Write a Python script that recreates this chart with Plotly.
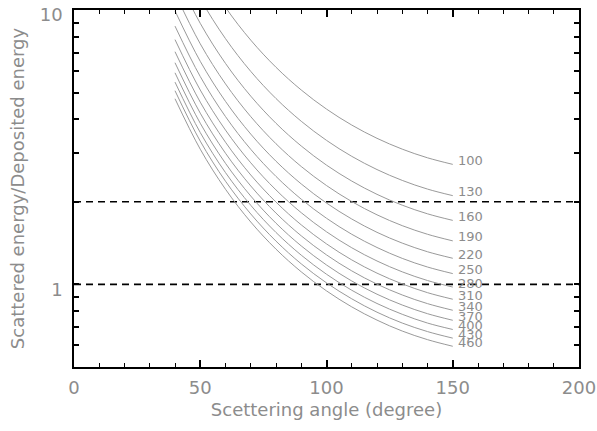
import math
import plotly.graph_objects as go

# Scattering angles (degree)
angles = [40, 50, 60, 70, 80, 90, 100, 110, 120, 130, 140, 150]

# Incident energies (keV) used as curve labels
energies = [100, 130, 160, 190, 220, 250, 280, 310, 340, 370, 400, 430, 460]

# Scattered energy / deposited energy, one list per energy
r100 = [21.84, 14.31, 10.22, 7.766, 6.184, 5.110, 4.354, 3.808, 3.407, 3.111, 2.893, 2.738]
r130 = [16.80, 11.00, 7.862, 5.974, 4.757, 3.931, 3.349, 2.929, 2.621, 2.393, 2.225, 2.106]
r160 = [13.65, 8.941, 6.388, 4.854, 3.865, 3.194, 2.721, 2.380, 2.129, 1.944, 1.808, 1.711]
r190 = [11.50, 7.529, 5.379, 4.087, 3.255, 2.689, 2.292, 2.004, 1.793, 1.637, 1.523, 1.441]
r220 = [9.928, 6.502, 4.645, 3.530, 2.811, 2.323, 1.979, 1.731, 1.548, 1.414, 1.315, 1.245]
r250 = [8.736, 5.722, 4.088, 3.106, 2.474, 2.044, 1.742, 1.523, 1.363, 1.244, 1.157, 1.095]
r280 = [7.800, 5.109, 3.650, 2.774, 2.209, 1.825, 1.555, 1.360, 1.217, 1.111, 1.033, 0.978]
r310 = [7.046, 4.615, 3.297, 2.505, 1.995, 1.648, 1.405, 1.228, 1.099, 1.004, 0.933, 0.883]
r340 = [6.424, 4.207, 3.006, 2.284, 1.819, 1.503, 1.281, 1.120, 1.002, 0.915, 0.851, 0.805]
r370 = [5.903, 3.866, 2.762, 2.099, 1.671, 1.381, 1.177, 1.029, 0.921, 0.841, 0.782, 0.740]
r400 = [5.460, 3.576, 2.555, 1.942, 1.546, 1.278, 1.089, 0.952, 0.852, 0.778, 0.723, 0.685]
r430 = [5.079, 3.327, 2.377, 1.806, 1.438, 1.188, 1.013, 0.886, 0.792, 0.723, 0.673, 0.637]
r460 = [4.748, 3.110, 2.222, 1.688, 1.344, 1.111, 0.947, 0.828, 0.741, 0.676, 0.629, 0.595]

ratios = [r100, r130, r160, r190, r220, r250, r280, r310, r340, r370, r400, r430, r460]

# Horizontal reference levels
ref_levels = [1, 2]
ref_x = [0, 200]

# Axis ticks
x_ticks = [0, 50, 100, 150, 200]
y_tickvals = [0.6, 0.7, 0.8, 0.9, 1, 2, 3, 4, 5, 6, 7, 8, 9, 10]
y_ticktext = ["", "", "", "", "1", "", "", "", "", "", "", "", "", "10"]

FONT = "DejaVu Sans"
TXT = "#8c8c8c"
CURVE = "#9a9a9a"

fig = go.Figure()

for lvl in ref_levels:
    fig.add_trace(go.Scatter(
        x=ref_x, y=[lvl, lvl], mode="lines",
        line=dict(color="black", width=1.6, dash="7px,5px"),
        hoverinfo="skip", showlegend=False,
    ))

for e, r in zip(energies, ratios):
    fig.add_trace(go.Scatter(
        x=angles, y=r, mode="lines",
        line=dict(color=CURVE, width=1, shape="spline", smoothing=1.0),
        showlegend=False, name=str(e),
    ))
    fig.add_annotation(
        x=angles[-1], y=math.log10(r[-1]), yref="y", xref="x",
        text=str(e), showarrow=False, xanchor="left", yanchor="middle",
        xshift=3, yshift=4,
        font=dict(family=FONT, size=13, color=TXT),
    )

fig.update_layout(
    width=597, height=431,
    margin=dict(l=74, r=18, t=10, b=64, autoexpand=False),
    paper_bgcolor="white", plot_bgcolor="white",
    font=dict(family=FONT, color=TXT),
)

fig.update_xaxes(
    range=[0, 200], tickvals=x_ticks, ticks="inside", ticklen=7, tickwidth=1.5,
    tickcolor="black", showline=True, linecolor="black", linewidth=1.5,
    mirror="allticks", showgrid=False, zeroline=False, automargin=False,
    minor=dict(dtick=10, ticks="inside", ticklen=4, tickwidth=1.2, tickcolor="black", showgrid=False),
    tickfont=dict(family=FONT, size=18, color=TXT), ticklabelstandoff=4,
    ticklabeloverflow="allow",
    title=dict(text="Scettering angle (degree)", font=dict(family=FONT, size=18, color=TXT), standoff=6),
)

fig.update_yaxes(
    type="log", range=[-0.30103, 1], tickvals=y_tickvals, ticktext=y_ticktext,
    ticks="inside", ticklen=5, tickwidth=1.5, tickcolor="black",
    showline=True, linecolor="black", linewidth=1.5, mirror="allticks",
    showgrid=False, zeroline=False, automargin=False,
    tickfont=dict(family=FONT, size=18, color=TXT), ticklabelstandoff=6, ticklabelshift=5,
    ticklabeloverflow="allow",
    title=dict(text="Scattered energy/Deposited energy", font=dict(family=FONT, size=18, color=TXT), standoff=10),
)

fig.write_html("out.html")
